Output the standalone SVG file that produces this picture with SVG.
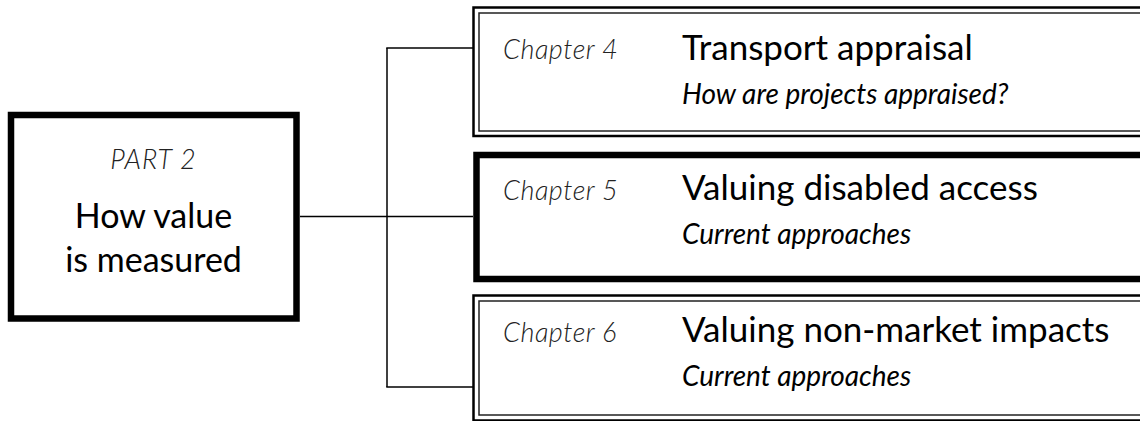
<svg xmlns="http://www.w3.org/2000/svg" width="1140" height="421" viewBox="0 0 1140 421">
<style>
.outer{fill:none;stroke:#000;stroke-width:2.5}
.inner{fill:none;stroke:#222;stroke-width:1.5}
.thick{fill:none;stroke:#000;stroke-width:6.5}
.conn{fill:none;stroke:#000;stroke-width:1.5}
.chap{font-family:Lato,"Liberation Sans",sans-serif;font-style:italic;font-weight:300;font-size:27px;letter-spacing:0.5px;fill:#222}
.title{font-family:Lato,"Liberation Sans",sans-serif;font-size:35px;fill:#000}
.sub{font-family:Lato,"Liberation Sans",sans-serif;font-style:italic;font-size:28px;fill:#000}
.part{font-family:Lato,"Liberation Sans",sans-serif;font-style:italic;font-weight:300;font-size:27px;letter-spacing:1px;fill:#222}
.big{font-family:Lato,"Liberation Sans",sans-serif;font-size:34px;fill:#000}
</style>
<rect width="1140" height="421" fill="#fff"/>
<g id="connectors">
<line class="conn" x1="300" y1="216.5" x2="473" y2="216.5"/>
<line class="conn" x1="387" y1="48" x2="387" y2="387"/>
<line class="conn" x1="386.25" y1="48" x2="473" y2="48"/>
<line class="conn" x1="386.25" y1="387" x2="473" y2="387"/>
</g>
<g id="part2">
<rect class="thick" x="11" y="115" width="285.5" height="203.5" fill="#fff"/>
<text class="part" x="153.5" y="169" text-anchor="middle">PART 2</text>
<text class="big" x="153.5" y="228" text-anchor="middle">How value</text>
<text class="big" x="153.5" y="272" text-anchor="middle">is measured</text>
</g>
<g id="chapter4">
<rect class="outer" x="473.5" y="7.5" width="680" height="128.5"/>
<rect class="inner" x="479" y="13" width="680" height="118"/>
<text class="chap" x="503" y="59">Chapter 4</text>
<text class="title" x="682" y="60">Transport appraisal</text>
<text class="sub" x="682" y="104">How are projects appraised?</text>
</g>
<g id="chapter5">
<rect class="thick" x="476.5" y="155" width="680" height="124"/>
<text class="chap" x="503" y="200">Chapter 5</text>
<text class="title" x="682" y="200">Valuing disabled access</text>
<text class="sub" x="682" y="244">Current approaches</text>
</g>
<g id="chapter6">
<rect class="outer" x="473.5" y="295.5" width="680" height="125"/>
<rect class="inner" x="479" y="301" width="680" height="114"/>
<text class="chap" x="503" y="342">Chapter 6</text>
<text class="title" x="682" y="342">Valuing non-market impacts</text>
<text class="sub" x="682" y="386">Current approaches</text>
</g>
</svg>
